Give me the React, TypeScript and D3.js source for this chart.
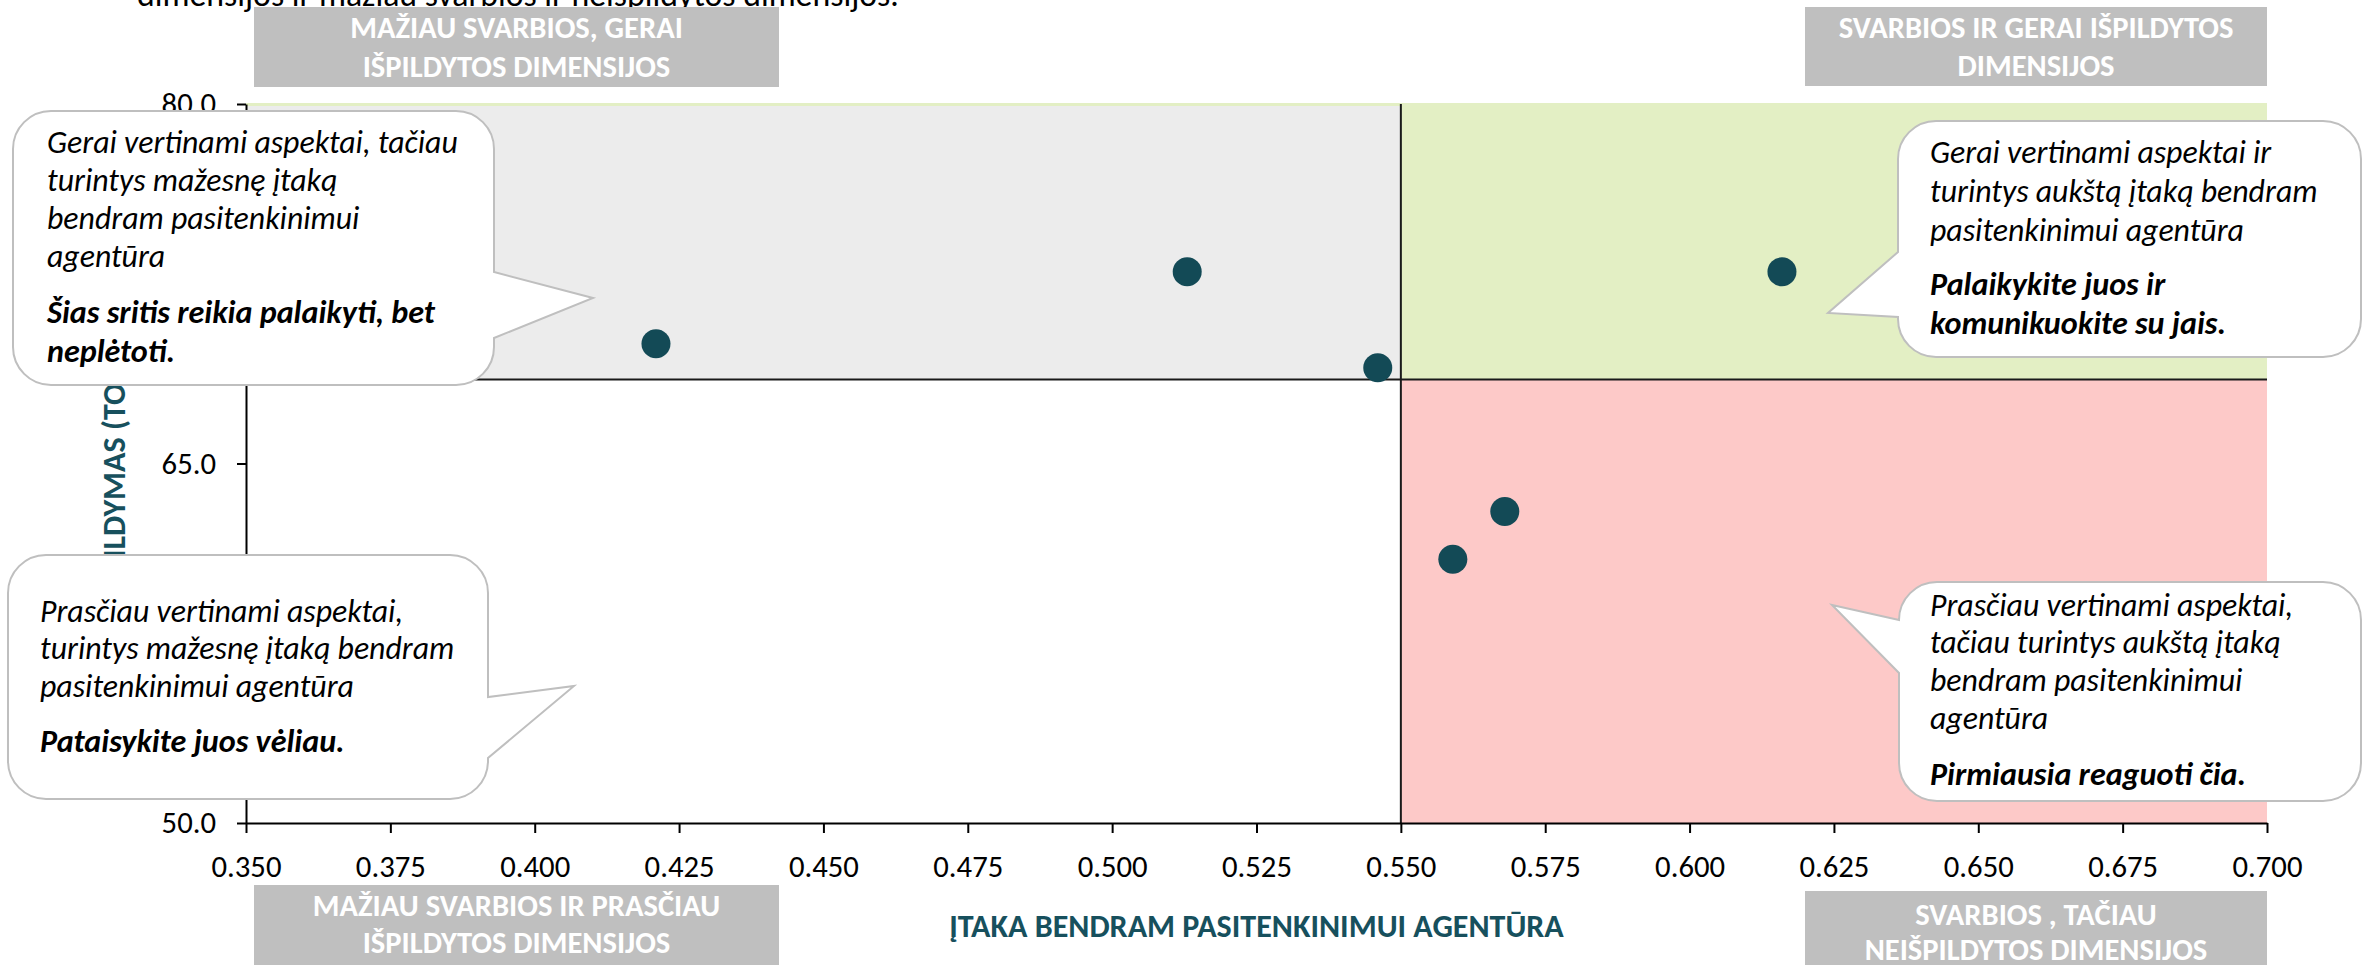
import React, { useEffect, useRef } from "react";
import * as d3 from "d3";

const W = 2364;
const H = 965;
const plot = { left: 246, right: 2267, top: 104, bottom: 823 };

// dimensions: impact on overall satisfaction (x) vs performance (y)
const impact = [0.421, 0.513, 0.546, 0.616, 0.568, 0.559];
const performance = [70.0, 73.0, 69.0, 73.0, 63.0, 61.0];

const xTicks = [0.35, 0.375, 0.4, 0.425, 0.45, 0.475, 0.5, 0.525, 0.55, 0.575, 0.6, 0.625, 0.65, 0.675, 0.7];
const yTicks = [50, 65, 80];
const xSplit = 0.55;
const ySplit = 68.5;

const xTitle = "ĮTAKA BENDRAM PASITENKINIMUI AGENTŪRA";
const yTitleHidden = "IŠP";
const yTitleRest = "ILDYMAS (TOP 2 BOX)";
const topNote = "dimensijos ir mažiau svarbios ir neišpildytos dimensijos.";

const FONT = "Carlito, Calibri, Lato, 'Open Sans', sans-serif";
const TEAL = "#17505d";

// grey header boxes
const headers = [
  { x: 254, y: 7, w: 525, h: 80, lines: ["MAŽIAU SVARBIOS, GERAI", "IŠPILDYTOS DIMENSIJOS"], base: [38, 77] },
  { x: 1805, y: 7, w: 462, h: 79, lines: ["SVARBIOS IR GERAI IŠPILDYTOS", "DIMENSIJOS"], base: [38, 76] },
  { x: 254, y: 885, w: 525, h: 80, lines: ["MAŽIAU SVARBIOS IR PRASČIAU", "IŠPILDYTOS DIMENSIJOS"], base: [916, 953] },
  { x: 1805, y: 891, w: 462, h: 74, lines: ["SVARBIOS , TAČIAU", "NEIŠPILDYTOS DIMENSIJOS"], base: [925, 960] },
];

// speech-bubble notes
const callouts = [
  {
    x: 13, y: 111, w: 481, h: 274, side: "right", a1: 272, a2: 338, tx: 593, ty: 298, textX: 47,
    italic: ["Gerai vertinami aspektai, tačiau", "turintys mažesnę įtaką", "bendram pasitenkinimui", "agentūra"],
    italicBase: [153, 191, 229, 267],
    bold: ["Šias sritis reikia palaikyti, bet", "neplėtoti."],
    boldBase: [323, 362],
  },
  {
    x: 8, y: 555, w: 480, h: 244, side: "right", a1: 697, a2: 758, tx: 574, ty: 686, textX: 40,
    italic: ["Prasčiau vertinami aspektai,", "turintys mažesnę įtaką bendram", "pasitenkinimui agentūra"],
    italicBase: [622, 659, 697],
    bold: ["Pataisykite juos vėliau."],
    boldBase: [752],
  },
  {
    x: 1898, y: 121, w: 463, h: 236, side: "left", a1: 252, a2: 317, tx: 1828, ty: 313, textX: 1930,
    italic: ["Gerai vertinami aspektai ir", "turintys aukštą įtaką bendram", "pasitenkinimui agentūra"],
    italicBase: [163, 202, 241],
    bold: ["Palaikykite juos ir", "komunikuokite su jais."],
    boldBase: [295, 334],
  },
  {
    x: 1899, y: 582, w: 462, h: 219, side: "left", a1: 620, a2: 673, tx: 1832, ty: 605, textX: 1930,
    italic: ["Prasčiau vertinami aspektai,", "tačiau turintys aukštą įtaką", "bendram pasitenkinimui", "agentūra"],
    italicBase: [616, 653, 691, 729],
    bold: ["Pirmiausia reaguoti čia."],
    boldBase: [785],
  },
];

function bubblePath(c) {
  const { x, y, w, h, side, a1, a2, tx, ty } = c;
  const r = 38;
  let p = `M${x + r},${y} H${x + w - r} A${r},${r} 0 0 1 ${x + w},${y + r}`;
  if (side === "right") p += ` V${a1} L${tx},${ty} L${x + w},${a2}`;
  p += ` V${y + h - r} A${r},${r} 0 0 1 ${x + w - r},${y + h} H${x + r} A${r},${r} 0 0 1 ${x},${y + h - r}`;
  if (side === "left") p += ` V${a2} L${tx},${ty} L${x},${a1}`;
  p += ` V${y + r} A${r},${r} 0 0 1 ${x + r},${y} Z`;
  return p;
}

// font size that makes `text` about `target` px wide (fallback fonts differ from Calibri)
function fitSize(svg, text, target, weight = "normal", style = "normal", fallback = 28) {
  const base = 30;
  const t = svg.append("text")
    .attr("font-family", FONT).attr("font-size", base)
    .attr("font-weight", weight).attr("font-style", style)
    .text(text);
  let len = 0;
  try { len = t.node().getComputedTextLength(); } catch (e) { len = 0; }
  t.remove();
  return len > 0 ? base * target / len : fallback;
}

export default function App() {
  const ref = useRef(null);

  useEffect(() => {
    const svg = d3.select(ref.current);
    svg.selectAll("*").remove();

    const x = d3.scaleLinear().domain([0.35, 0.7]).range([plot.left, plot.right]);
    const y = d3.scaleLinear().domain([50, 80]).range([plot.bottom, plot.top]);

    const tickSize = fitSize(svg, "0.350", 70);
    const titleSize = fitSize(svg, xTitle, 615, "bold");
    const noteSize = fitSize(svg, topNote, 762);
    const headSize = 0.96 * (fitSize(svg, headers[0].lines[0], 346, "bold") + fitSize(svg, headers[1].lines[0], 412, "bold")) / 2;
    const italicSize = fitSize(svg, callouts[0].italic[0], 411, "normal", "italic");
    const boldSize = fitSize(svg, callouts[0].bold[0], 388, "bold", "italic");

    svg.append("rect").attr("width", W).attr("height", H).attr("fill", "#fff");

    // cut-off sentence above the chart
    svg.append("text")
      .attr("x", 137).attr("y", 6)
      .attr("font-family", FONT).attr("font-size", noteSize)
      .text(topNote);

    // quadrant backgrounds
    svg.append("rect")
      .attr("x", x(0.35)).attr("y", y(80) - 1)
      .attr("width", x(0.7) - x(0.35)).attr("height", y(ySplit) - y(80) + 1)
      .attr("fill", "#e3efc4");
    svg.append("rect")
      .attr("x", x(0.35)).attr("y", y(80) + 2)
      .attr("width", x(xSplit) - x(0.35)).attr("height", y(ySplit) - y(80) - 2)
      .attr("fill", "#ececec");
    svg.append("rect")
      .attr("x", x(xSplit)).attr("y", y(ySplit))
      .attr("width", x(0.7) - x(xSplit)).attr("height", y(50) - y(ySplit))
      .attr("fill", "#fdc9c8");

    // quadrant dividers
    svg.append("line")
      .attr("x1", x(xSplit)).attr("x2", x(xSplit))
      .attr("y1", y(80)).attr("y2", y(50))
      .attr("stroke", "#1a1a1a").attr("stroke-width", 2);
    svg.append("line")
      .attr("x1", x(0.35)).attr("x2", x(0.7))
      .attr("y1", y(ySplit)).attr("y2", y(ySplit))
      .attr("stroke", "#1a1a1a").attr("stroke-width", 2);

    // axes
    const xAxis = d3.axisBottom(x)
      .tickValues(xTicks)
      .tickFormat(d3.format(".3f"))
      .tickSize(10)
      .tickSizeOuter(0)
      .tickPadding(0);
    const gx = svg.append("g")
      .attr("transform", `translate(0,${plot.bottom})`)
      .call(xAxis);

    const yAxis = d3.axisLeft(y)
      .tickValues(yTicks)
      .tickFormat(d3.format(".1f"))
      .tickSize(9)
      .tickSizeOuter(0)
      .tickPadding(21);
    const gy = svg.append("g")
      .attr("transform", `translate(${plot.left},0)`)
      .call(yAxis);

    [gx, gy].forEach(g => {
      g.selectAll("path, line").attr("stroke", "#000").attr("stroke-width", 2);
      g.selectAll("text")
        .attr("font-family", FONT)
        .attr("font-size", tickSize)
        .attr("fill", "#000");
    });
    // baseline of x tick labels at y = 877
    gx.selectAll("text").attr("y", 54).attr("dy", 0);

    // axis titles
    svg.append("text")
      .attr("x", (plot.left + plot.right) / 2).attr("y", 937)
      .attr("text-anchor", "middle")
      .attr("font-family", FONT).attr("font-size", titleSize).attr("font-weight", "bold")
      .attr("fill", TEAL)
      .text(xTitle);

    // y title: start of the word sits under the lower callout
    const yt = svg.append("text")
      .attr("font-family", FONT).attr("font-size", titleSize).attr("font-weight", "bold")
      .attr("fill", TEAL);
    yt.append("tspan").text(yTitleHidden);
    yt.append("tspan").text(yTitleRest);
    let hiddenLen = 48;
    try {
      hiddenLen = yt.node().getSubStringLength(0, yTitleHidden.length);
    } catch (e) { /* keep estimate */ }
    yt.attr("transform", `translate(125,${558 + hiddenLen}) rotate(-90)`);

    // points
    svg.append("g")
      .selectAll("circle")
      .data(impact.map((v, i) => [v, performance[i]]))
      .join("circle")
      .attr("cx", d => x(d[0]))
      .attr("cy", d => y(d[1]))
      .attr("r", 14.5)
      .attr("fill", "#134a56");

    // header boxes
    headers.forEach(hd => {
      svg.append("rect")
        .attr("x", hd.x).attr("y", hd.y).attr("width", hd.w).attr("height", hd.h)
        .attr("fill", "#bfbfbf");
      hd.lines.forEach((t, i) => {
        svg.append("text")
          .attr("x", hd.x + hd.w / 2).attr("y", hd.base[i])
          .attr("text-anchor", "middle")
          .attr("font-family", FONT).attr("font-size", headSize).attr("font-weight", "bold")
          .attr("fill", "#fff")
          .text(t);
      });
    });

    // callouts on top
    callouts.forEach(c => {
      svg.append("path")
        .attr("d", bubblePath(c))
        .attr("fill", "#fff")
        .attr("stroke", "#bfbfbf")
        .attr("stroke-width", 2);
      c.italic.forEach((t, i) => {
        svg.append("text")
          .attr("x", c.textX).attr("y", c.italicBase[i])
          .attr("font-family", FONT).attr("font-size", italicSize).attr("font-style", "italic")
          .attr("fill", "#000")
          .text(t);
      });
      c.bold.forEach((t, i) => {
        svg.append("text")
          .attr("x", c.textX).attr("y", c.boldBase[i])
          .attr("font-family", FONT).attr("font-size", boldSize).attr("font-style", "italic")
          .attr("font-weight", "bold")
          .attr("fill", "#000")
          .text(t);
      });
    });
  }, []);

  return (
    <svg
      ref={ref}
      width={W}
      height={H}
      style={{ position: "absolute", left: 0, top: 0, display: "block" }}
    />
  );
}
